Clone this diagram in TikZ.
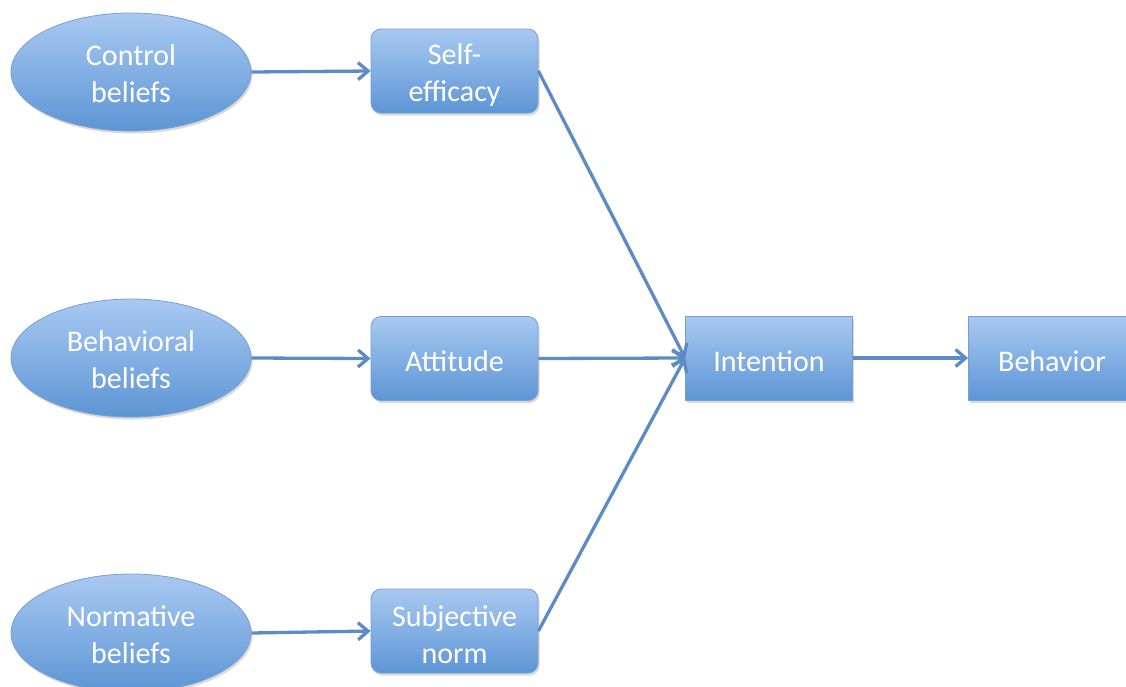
\documentclass[tikz,border=0pt]{standalone}
\usepackage{fontspec}
\setmainfont{Carlito}
\usetikzlibrary{shapes.geometric,arrows.meta,shadows}
\begin{document}
\begin{tikzpicture}[x=1pt,y=-1pt,
  fillgrad/.style={top color=boxtop,bottom color=boxbot,draw=boxedge,line width=0.8pt,
    drop shadow={shadow xshift=1.5pt,shadow yshift=-2.5pt,opacity=0.25,fill=black!60}},
  txt/.style={align=center,text=white,font=\fontsize{30}{37}\selectfont,inner sep=0pt},
  belief/.style={fillgrad,ellipse,minimum width=240pt,minimum height=118pt,inner sep=0pt},
  rbox/.style={fillgrad,rectangle,rounded corners=10pt,minimum width=167pt,minimum height=84pt,inner sep=0pt},
  sbox/.style={fillgrad,rectangle,minimum width=167pt,minimum height=84pt,inner sep=0pt},
  conn/.style={draw=arrowc,line width=3.3pt,-{Straight Barb[length=10pt,width=17pt,line width=3.3pt]}}
]
\definecolor{boxtop}{HTML}{A9C9F2}
\definecolor{boxbot}{HTML}{5D95D5}
\definecolor{boxedge}{HTML}{77A0D2}
\definecolor{arrowc}{HTML}{5E8BC4}
\useasboundingbox (0,0) rectangle (1126,686);
\node[belief,label={[txt,yshift=-2pt]center:{Control\\beliefs}}] (cb) at (131,72) {};
\node[belief,label={[txt,yshift=-2pt]center:{Behavioral\\beliefs}}] (bb) at (131,358) {};
\node[belief,label={[txt,yshift=-2pt]center:{Normative\\beliefs}}] (nb) at (131,633) {};
\node[rbox,label={[txt,yshift=-4pt]center:{Self-\\efficacy}}] (se) at (454.5,71) {};
\node[rbox,label={[txt,yshift=-3pt]center:{Attitude}}] (at) at (454.5,358.5) {};
\node[rbox,label={[txt,yshift=-4pt]center:{Subjective\\norm}}] (sn) at (454.5,631) {};
\node[sbox,label={[txt,yshift=-3pt]center:{Intention}}] (in) at (769,358) {};
\node[sbox,label={[txt,yshift=-3pt]center:{Behavior}}] (be) at (1052,358) {};
\draw[conn] (cb.east) -- (se.west);
\draw[conn] (bb.east) -- (at.west);
\draw[conn] (nb.east) -- (sn.west);
\draw[conn] (se.east) -- (in.west);
\draw[conn] (at.east) -- (in.west);
\draw[conn] (sn.east) -- (in.west);
\draw[conn] (in.east) -- (be.west);
\end{tikzpicture}
\end{document}
